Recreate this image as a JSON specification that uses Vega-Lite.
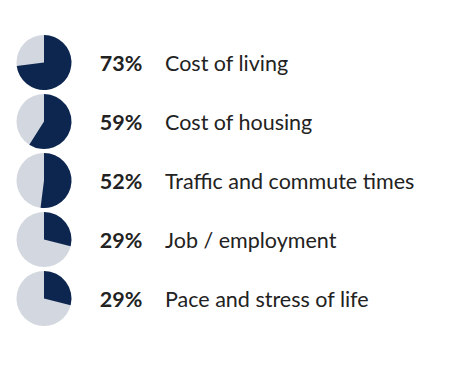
{
  "$schema": "https://vega.github.io/schema/vega-lite/v6.json",
  "padding": {"top": 33, "left": 0, "right": 0, "bottom": 0},
  "background": "#ffffff",
  "spacing": 0,
  "config": {"view": {"stroke": null}, "concat": {"spacing": 0}},
  "data": {
    "values": [
      {"order": 1, "pct": 0.73, "label": "Cost of living"},
      {"order": 2, "pct": 0.59, "label": "Cost of housing"},
      {"order": 3, "pct": 0.52, "label": "Traffic and commute times"},
      {"order": 4, "pct": 0.29, "label": "Job / employment"},
      {"order": 5, "pct": 0.29, "label": "Pace and stress of life"}
    ]
  },
  "hconcat": [
    {
      "width": 88,
      "height": 295,
      "encoding": {
        "y": {"field": "order", "type": "ordinal", "axis": null, "scale": {"type": "point", "padding": 0.5}}
      },
      "layer": [
        {
          "mark": {"type": "arc", "radius": 27.5, "color": "#d3d7df"},
          "encoding": {
            "theta": {"datum": 1, "type": "quantitative", "scale": {"domain": [0, 1], "range": [0, 6.283185307179586]}},
            "theta2": {"datum": 0}
          }
        },
        {
          "mark": {"type": "arc", "radius": 27.5, "color": "#0c2650"},
          "encoding": {
            "theta": {"field": "pct", "type": "quantitative", "stack": null},
            "theta2": {"datum": 0}
          }
        }
      ]
    },
    {
      "width": 66,
      "height": 295,
      "mark": {"type": "text", "font": "Lato", "fontWeight": "bold", "fontSize": 21.5, "color": "#222222", "align": "center", "baseline": "middle", "dy": 2},
      "encoding": {
        "y": {"field": "order", "type": "ordinal", "axis": null, "scale": {"type": "point", "padding": 0.5}},
        "text": {"field": "pct", "type": "quantitative", "format": ".0%"}
      }
    },
    {
      "width": 22,
      "height": 295,
      "mark": {"type": "text", "font": "Lato", "fontSize": 21.5, "color": "#222222", "align": "left", "baseline": "middle", "dy": 2},
      "encoding": {
        "y": {"field": "order", "type": "ordinal", "axis": null, "scale": {"type": "point", "padding": 0.5}},
        "text": {"field": "label", "type": "nominal"}
      }
    }
  ]
}
